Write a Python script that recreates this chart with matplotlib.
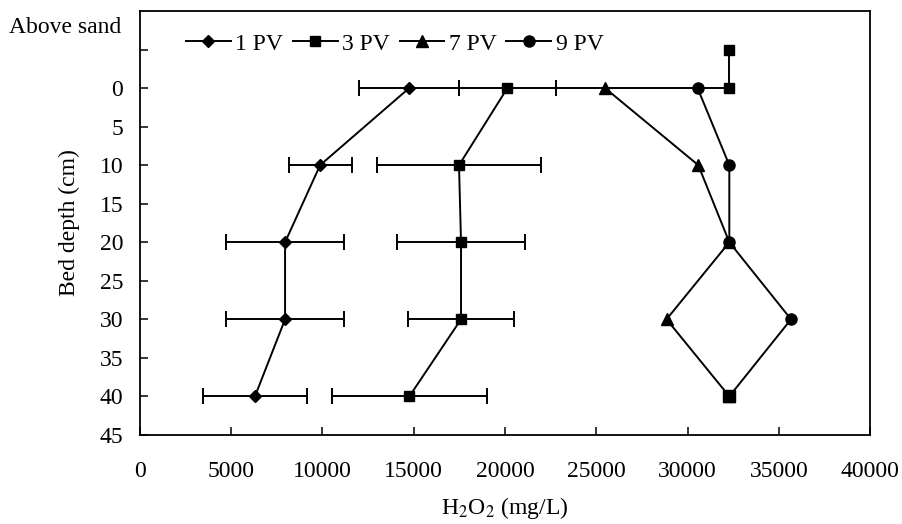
import numpy as np
import matplotlib
matplotlib.use('Agg')
from matplotlib import pyplot as plt
from matplotlib.lines import Line2D

plt.rcParams['font.family'] = ['Liberation Serif', 'DejaVu Serif']
plt.rcParams['mathtext.fontset'] = 'stix'

# bed depth (cm)
depth = [0, 10, 20, 30, 40]

# H2O2 concentration (mg/L) per pore volume
pv1 = [14750, 9870, 7950, 7950, 6300]
pv1_err = [2740, 1720, 3250, 3250, 2870]
pv3 = [20130, 17480, 17590, 17590, 14760]
pv3_err = [2640, 4510, 3500, 2890, 4230]
pv7 = [25480, 30590, 32290, 28850, 32290]
pv9 = [30550, 32290, 32290, 35670, 32290]

# "above sand" points and the line along the bed surface
sand_x = [32290, 32290]
sand_y = [-5, 0]
bottom_x = [32290]
bottom_y = [40]
surface_x = [22770, 32290]
surface_y = [0, 0]

series_names = ['1 PV', '3 PV', '7 PV', '9 PV']
series_markers = ['D', 's', '^', 'o']

xticks = [0, 5000, 10000, 15000, 20000, 25000, 30000, 35000, 40000]
yticks = [-5, 0, 5, 10, 15, 20, 25, 30, 35, 40, 45]
ylabels = [''] + [str(v) for v in yticks[1:]]

fig = plt.figure(figsize=(9.03, 5.24), dpi=100)
ax = fig.add_axes([0.155, 0.170, 0.8085, 0.809])

lw = 1.4
ms = 7
sizes = [ms - 1, ms, ms + 1, ms + 1]
eb = dict(ecolor='black', elinewidth=lw, capsize=6, capthick=lw)

ax.plot(surface_x, surface_y, color='black', lw=lw)
ax.plot(sand_x, sand_y, color='black', lw=lw, marker='s', ms=ms)

ax.errorbar(pv1, depth, xerr=pv1_err, color='black', lw=lw, marker='D',
            ms=sizes[0], **eb)
ax.errorbar(pv3, depth, xerr=pv3_err, color='black', lw=lw, marker='s',
            ms=sizes[1], **eb)
ax.plot(pv7, depth, color='black', lw=lw, marker='^', ms=sizes[2])
ax.plot(pv9, depth, color='black', lw=lw, marker='o', ms=sizes[3])
ax.plot(bottom_x, bottom_y, color='black', lw=0, marker='s', ms=ms + 1,
        zorder=6)

ax.set_xlim(0, 40000)
ax.set_ylim(45, -10)
ax.set_xticks(xticks)
ax.set_yticks(yticks)
ax.set_yticklabels(ylabels)
ax.tick_params(direction='in', length=5.5, width=1.1, labelsize=17)
ax.tick_params(axis='x', pad=19)
ax.tick_params(axis='y', pad=12)
for s in ax.spines.values():
    s.set_linewidth(1.3)

ax.text(-0.025, -7.8, 'Above sand', transform=ax.get_yaxis_transform(),
        ha='right', va='center', fontsize=17)

ax.set_ylabel('Bed depth (cm)', fontsize=17, labelpad=14)
ax.set_xlabel(r'H$_2$O$_2$ (mg/L)', fontsize=17, labelpad=9)

handles = [Line2D([], [], color='black', lw=lw, marker=m, ms=sz)
           for m, sz in zip(series_markers, sizes)]
ax.legend(handles, series_names, loc='upper left', bbox_to_anchor=(0.05, 0.97),
          ncol=4, frameon=False, fontsize=17, handlelength=1.9,
          handletextpad=0.2, columnspacing=0.4, borderaxespad=0)

fig.savefig('out.png', dpi=100)
